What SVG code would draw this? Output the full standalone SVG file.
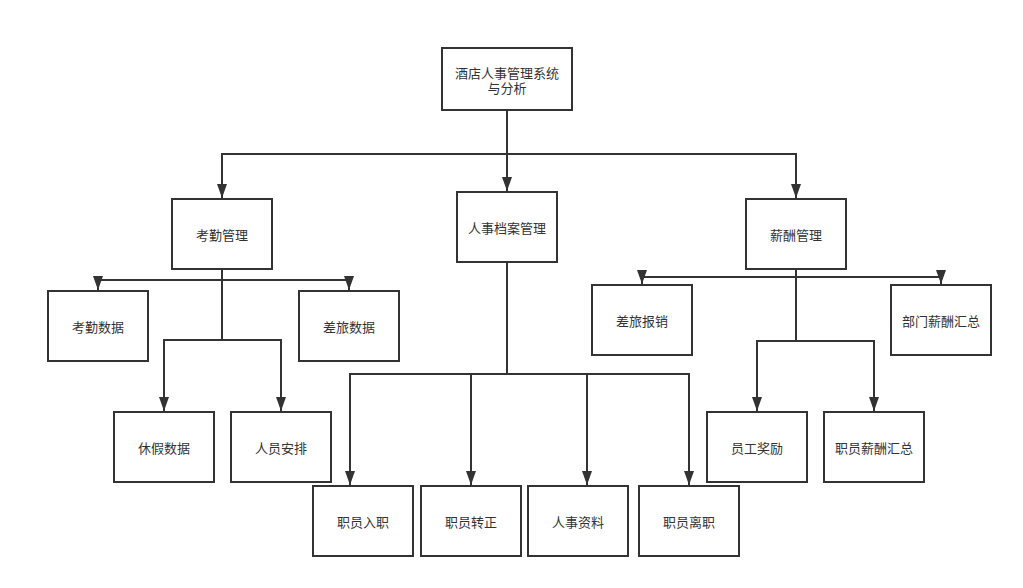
<svg xmlns="http://www.w3.org/2000/svg" width="1023" height="588" viewBox="0 0 1023 588">
<style>
.box{fill:#fff;stroke:#333;stroke-width:2}
.t{font-family:"Noto Sans CJK SC","Liberation Sans",sans-serif;font-size:13px;fill:#333;text-anchor:middle;dominant-baseline:central}
.c{fill:none;stroke:#333;stroke-width:2}
</style>
<defs>
<marker id="a" markerUnits="userSpaceOnUse" markerWidth="15" markerHeight="10" refX="14" refY="5" orient="auto" viewBox="0 0 15 10">
<path d="M0,0 L14,5 L0,10 z" fill="#333"/>
</marker>
</defs>
<rect width="1023" height="588" fill="#fff"/>
<g id="connectors">
<path class="c" d="M507 110 V191" marker-end="url(#a)"/>
<path class="c" d="M507 154 H222 V198" marker-end="url(#a)"/>
<path class="c" d="M507 154 H796 V198" marker-end="url(#a)"/>
<path class="c" d="M222 269 V280 H98 V290" marker-end="url(#a)"/>
<path class="c" d="M222 280 H349 V290" marker-end="url(#a)"/>
<path class="c" d="M222 280 V340 H164 V411" marker-end="url(#a)"/>
<path class="c" d="M222 340 H281 V411" marker-end="url(#a)"/>
<path class="c" d="M507 262 V374 H350 V485" marker-end="url(#a)"/>
<path class="c" d="M507 374 H471 V485" marker-end="url(#a)"/>
<path class="c" d="M507 374 H587 V485" marker-end="url(#a)"/>
<path class="c" d="M587 374 H689 V485" marker-end="url(#a)"/>
<path class="c" d="M796 269 V277 H642 V284" marker-end="url(#a)"/>
<path class="c" d="M796 277 H941 V284" marker-end="url(#a)"/>
<path class="c" d="M796 277 V341 H757 V411" marker-end="url(#a)"/>
<path class="c" d="M796 341 H874 V411" marker-end="url(#a)"/>
</g>
<g id="root"><rect class="box" x="442" y="48" width="130" height="62"/><text class="t" x="507" y="72">酒店人事管理系统</text><text class="t" x="507" y="87.5">与分析</text></g>
<g id="kaoqin"><rect class="box" x="172" y="199" width="100" height="70"/><text class="t" x="222" y="234">考勤管理</text></g>
<g id="renshi"><rect class="box" x="457" y="192" width="100" height="70"/><text class="t" x="507" y="227">人事档案管理</text></g>
<g id="xinchou"><rect class="box" x="746" y="199" width="100" height="70"/><text class="t" x="796" y="234">薪酬管理</text></g>
<g id="kqsj"><rect class="box" x="48" y="291" width="100" height="70"/><text class="t" x="98" y="326">考勤数据</text></g>
<g id="clsj"><rect class="box" x="299" y="291" width="100" height="70"/><text class="t" x="349" y="326">差旅数据</text></g>
<g id="xjsj"><rect class="box" x="114" y="412" width="100" height="70"/><text class="t" x="164" y="447">休假数据</text></g>
<g id="ryap"><rect class="box" x="231" y="412" width="100" height="70"/><text class="t" x="281" y="447">人员安排</text></g>
<g id="zyrz"><rect class="box" x="313" y="486" width="100" height="70"/><text class="t" x="363" y="521">职员入职</text></g>
<g id="zyzz"><rect class="box" x="421" y="486" width="100" height="70"/><text class="t" x="471" y="521">职员转正</text></g>
<g id="rszl"><rect class="box" x="528" y="486" width="100" height="70"/><text class="t" x="578" y="521">人事资料</text></g>
<g id="zylz"><rect class="box" x="639" y="486" width="100" height="70"/><text class="t" x="689" y="521">职员离职</text></g>
<g id="clbx"><rect class="box" x="592" y="285" width="100" height="70"/><text class="t" x="642" y="320">差旅报销</text></g>
<g id="bmxc"><rect class="box" x="891" y="285" width="100" height="70"/><text class="t" x="941" y="320">部门薪酬汇总</text></g>
<g id="ygjl"><rect class="box" x="707" y="412" width="100" height="70"/><text class="t" x="757" y="447">员工奖励</text></g>
<g id="zyxc"><rect class="box" x="824" y="412" width="100" height="70"/><text class="t" x="874" y="447">职员薪酬汇总</text></g>
</svg>
